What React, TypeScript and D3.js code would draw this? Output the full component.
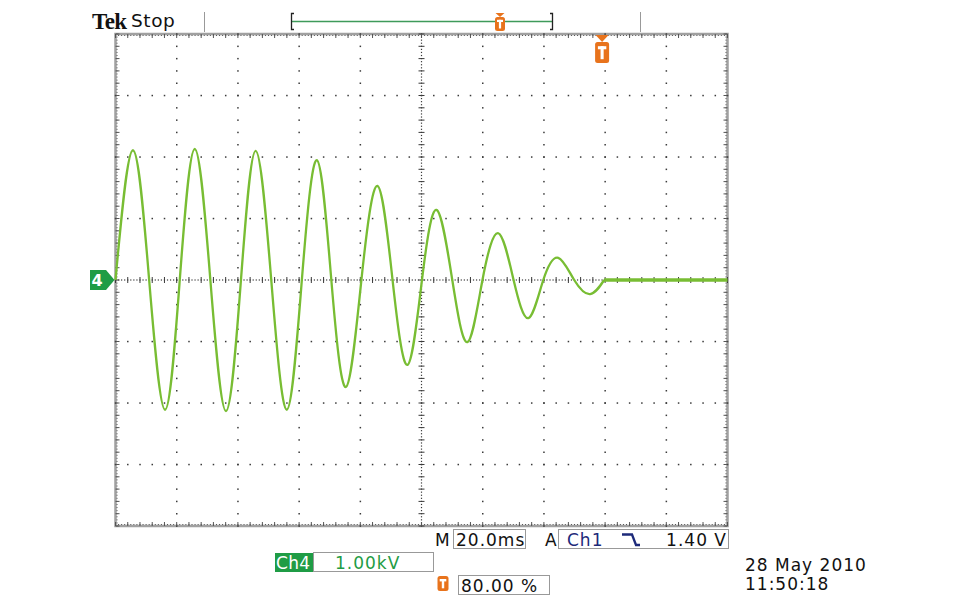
import React from "react";
import * as d3 from "d3";

// ---- data ----
// time in ms (trigger at 0), voltage in kV (Ch4, 1.00 kV/div, 20.0 ms/div)
const timeDivs = [-160, -140, -120, -100, -80, -60, -40, -20, 0, 20, 40];
const voltDivs = [-4, -3, -2, -1, 0, 1, 2, 3, 4];
const waveTimes = [
  -160, -154.3, -149.0, -143.8, -139.0, -134.1, -129.0, -123.9, -119.0, -114.2,
  -109.1, -104.0, -99.1, -94.2, -89.5, -84.7, -79.6, -74.4, -69.5, -64.6,
  -59.8, -55.1, -50.0, -45.0, -40.0, -34.9, -30.0, -25.1, -20.2, -15.3,
  -10.1, -4.9, -0.3,
];
const waveValues = [
  0, 2.11, 0, -2.11, 0, 2.13, 0, -2.13, 0, 2.1,
  0, -2.11, 0, 1.95, 0.02, -1.74, 0.02, 1.53, 0.02, -1.38,
  0.02, 1.14, 0.02, -1.01, 0.02, 0.76, 0.02, -0.62, 0, 0.36,
  0, -0.23, 0,
];
const tailTimes = [-0.3, 10, 20, 30, 40];
const tailValues = [0, 0, 0, 0, 0];

const headerLabels = ["Tek", "Stop"];
const timebaseLabel = "20.0ms";
const triggerSource = "Ch1";
const triggerLevel = "1.40 V";
const channelLabel = "Ch4";
const channelScale = "1.00kV";
const triggerPosition = "80.00 %";
const dateLines = ["28 May 2010", "11:50:18"];

const TRACE = "#78bd33";
const ORANGE = "#e8731c";
const CHGREEN = "#1f9c45";
const NAVY = "#1d2a7a";
const FONT = "'DejaVu Sans', Verdana, sans-serif";

function TIcon({ cx, top, w, h, tri }: { cx: number; top: number; w: number; h: number; tri?: number }) {
  const sw = Math.max(2, w * 0.22);
  return (
    <g>
      {tri ? (
        <path d={`M${cx - w / 2 + 0.5},${top - tri} L${cx + w / 2 - 0.5},${top - tri} L${cx},${top}Z`} fill={ORANGE} />
      ) : null}
      <rect x={cx - w / 2} y={top} width={w} height={h} rx={2.5} fill={ORANGE} />
      <rect x={cx - w * 0.3} y={top + h * 0.2} width={w * 0.6} height={sw} fill="#fff" />
      <rect x={cx - sw / 2} y={top + h * 0.2} width={sw} height={h * 0.62} fill="#fff" />
    </g>
  );
}

export default function App() {
  const x = d3.scaleLinear().domain([timeDivs[0], timeDivs[timeDivs.length - 1]]).range([115.5, 727.5]);
  const y = d3.scaleLinear().domain([voltDivs[0], voltDivs[voltDivs.length - 1]]).range([526, 34]);

  const [x0, x1] = x.range();
  const [y0, y1] = y.range(); // y0 bottom, y1 top
  const tStep = (timeDivs[1] - timeDivs[0]) / 5;
  const vStep = (voltDivs[1] - voltDivs[0]) / 5;
  const minorT = d3.range(timeDivs[0], timeDivs[timeDivs.length - 1] + 0.001, tStep);
  const minorV = d3.range(voltDivs[0], voltDivs[voltDivs.length - 1] + 0.001, vStep);
  const halfT = d3.range(timeDivs[0], timeDivs[timeDivs.length - 1] + 0.001, tStep / 4);
  const halfV = d3.range(voltDivs[0], voltDivs[voltDivs.length - 1] + 0.001, vStep / 4);
  const innerT = timeDivs.slice(1, -1);
  const innerV = voltDivs.slice(1, -1);
  const centerT = timeDivs[5];
  const centerV = 0;

  const dots: React.ReactNode[] = [];
  const DOT = "#3a3a3a";
  innerT.forEach((t) => {
    if (t === centerT) return;
    minorV.forEach((v, i) =>
      dots.push(<rect key={`vt${t}_${i}`} x={x(t) - 0.7} y={y(v) - 0.7} width={1.5} height={1.5} fill={DOT} />)
    );
  });
  innerV.forEach((v) => {
    if (v === centerV) return;
    minorT.forEach((t, i) =>
      dots.push(<rect key={`hv${v}_${i}`} x={x(t) - 0.7} y={y(v) - 0.7} width={1.5} height={1.5} fill={DOT} />)
    );
  });
  // center crosshair
  halfT.forEach((t, i) =>
    dots.push(<rect key={`ch${i}`} x={x(t) - 0.6} y={y(centerV) - 0.6} width={1.2} height={1.2} fill={DOT} />)
  );
  halfV.forEach((v, i) =>
    dots.push(<rect key={`cv${i}`} x={x(centerT) - 0.6} y={y(v) - 0.6} width={1.2} height={1.2} fill={DOT} />)
  );
  minorT.forEach((t, i) =>
    dots.push(<line key={`cht${i}`} x1={x(t)} x2={x(t)} y1={y(centerV) - 3} y2={y(centerV) + 3} stroke={DOT} strokeWidth={1} />)
  );
  minorV.forEach((v, i) =>
    dots.push(<line key={`cvt${i}`} x1={x(centerT) - 3} x2={x(centerT) + 3} y1={y(v)} y2={y(v)} stroke={DOT} strokeWidth={1} />)
  );
  // border ticks
  const BT = "#555";
  minorT.forEach((t, i) => {
    dots.push(<line key={`bt${i}`} x1={x(t)} x2={x(t)} y1={y1} y2={y1 + 4} stroke={BT} strokeWidth={1} />);
    dots.push(<line key={`bb${i}`} x1={x(t)} x2={x(t)} y1={y0} y2={y0 - 4} stroke={BT} strokeWidth={1} />);
  });
  minorV.forEach((v, i) => {
    dots.push(<line key={`bl${i}`} x1={x0} x2={x0 + 4} y1={y(v)} y2={y(v)} stroke={BT} strokeWidth={1} />);
    dots.push(<line key={`br${i}`} x1={x1} x2={x1 - 4} y1={y(v)} y2={y(v)} stroke={BT} strokeWidth={1} />);
  });
  halfT.forEach((t, i) => {
    dots.push(<rect key={`btd${i}`} x={x(t) - 0.5} y={y1 + 1} width={1} height={1} fill={BT} />);
    dots.push(<rect key={`bbd${i}`} x={x(t) - 0.5} y={y0 - 2} width={1} height={1} fill={BT} />);
  });
  halfV.forEach((v, i) => {
    dots.push(<rect key={`bld${i}`} x={x0 + 1} y={y(v) - 0.5} width={1} height={1} fill={BT} />);
    dots.push(<rect key={`brd${i}`} x={x1 - 2} y={y(v) - 0.5} width={1} height={1} fill={BT} />);
  });

  const wave = d3
    .line<number>()
    .x((_, i) => x(waveTimes[i]))
    .y((d) => y(d))
    .curve(d3.curveNatural)(waveValues);
  const tail = d3
    .line<number>()
    .x((_, i) => x(tailTimes[i]))
    .y((d) => y(d))(tailValues);

  const trigX = x(0);
  const zeroY = y(0);

  return (
    <svg width={960} height={609} style={{ position: "absolute", left: 0, top: 0, background: "#fff" }}>
      {/* header */}
      <text x={92} y={29} fontFamily="'Liberation Serif', serif" fontWeight="bold" fontSize={23} letterSpacing={-0.6} fill="#111">
        {headerLabels[0]}
      </text>
      <text x={131} y={27} fontFamily={FONT} fontSize={18.5} letterSpacing={0.6} fill="#111">
        {headerLabels[1]}
      </text>
      <line x1={204.5} x2={204.5} y1={12} y2={32} stroke="#999" strokeWidth={1} />
      <line x1={640.5} x2={640.5} y1={12} y2={32} stroke="#999" strokeWidth={1} />
      <line x1={292} x2={552} y1={21.5} y2={21.5} stroke="#3f9a5a" strokeWidth={1.5} />
      <path d="M294,13.5 H291.5 V29.5 H294" fill="none" stroke="#222" strokeWidth={1.3} />
      <path d="M550,13.5 H552.5 V29.5 H550" fill="none" stroke="#222" strokeWidth={1.3} />
      <TIcon cx={500} top={17} w={10} h={14} tri={4} />

      {/* plot frame */}
      <rect x={x0} y={y1} width={x1 - x0} height={y0 - y1} fill="none" stroke="#a0a0a0" strokeWidth={2.5} />
      {dots}

      {/* trigger position marker */}
      <TIcon cx={trigX - 3} top={42} w={14} h={21} tri={7} />

      {/* trace */}
      <path d={wave ?? ""} fill="none" stroke={TRACE} strokeWidth={2.3} strokeLinejoin="round" />
      <path d={tail ?? ""} fill="none" stroke={TRACE} strokeWidth={3.5} />

      {/* channel marker */}
      <path d={`M90,${zeroY - 10} H106 L${x0 - 1},${zeroY} L106,${zeroY + 10} H90 Z`} fill={CHGREEN} />
      <text x={97} y={zeroY + 6} fontFamily={FONT} fontWeight="bold" fontSize={16} fill="#fff" textAnchor="middle">
        4
      </text>

      {/* bottom status */}
      <g fontFamily={FONT} fontSize={17} letterSpacing={1}>
        <text x={435} y={546} fill="#111">M</text>
        <rect x={453.5} y={529.5} width={72} height={19} fill="none" stroke="#999" strokeWidth={1} />
        <text x={456} y={546} fill="#111">{timebaseLabel}</text>
        <text x={545} y={546} fill="#111">A</text>
        <rect x={558.5} y={529.5} width={170} height={19} fill="none" stroke="#999" strokeWidth={1} />
        <text x={567} y={546} fill={NAVY}>{triggerSource}</text>
        <path d="M622,534.5 H632 L636,545 H640" fill="none" stroke={NAVY} strokeWidth={2.3} />
        <text x={727} y={546} fill="#111" textAnchor="end">{triggerLevel}</text>

        <rect x={275} y={553} width={38} height={19} fill={CHGREEN} />
        <text x={276} y={569} fill="#fff" letterSpacing={0.3}>{channelLabel}</text>
        <rect x={313.5} y={552.5} width={120} height={19} fill="none" stroke="#999" strokeWidth={1} />
        <text x={335} y={569} fill={CHGREEN}>{channelScale}</text>

        <rect x={458.5} y={575.5} width={91} height={19} fill="none" stroke="#999" strokeWidth={1} />
        <text x={461} y={592} fill="#111">{triggerPosition}</text>

        <text x={745} y={571} fill="#111">{dateLines[0]}</text>
        <text x={745} y={590} fill="#111">{dateLines[1]}</text>
      </g>
      <TIcon cx={443} top={576} w={11} h={15} />
    </svg>
  );
}
